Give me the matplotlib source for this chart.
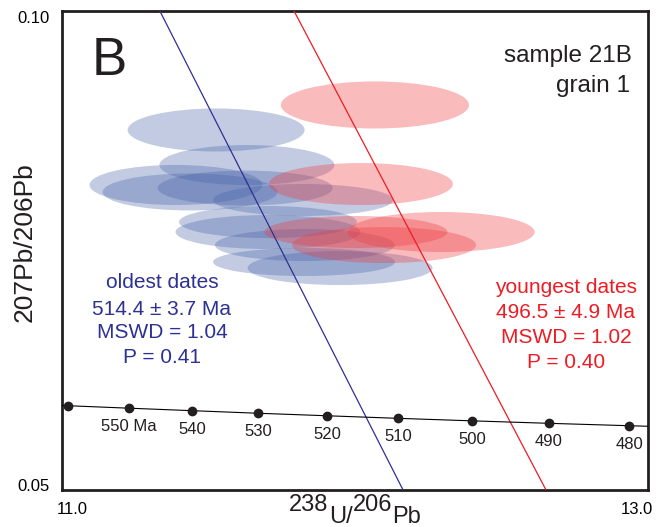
import matplotlib
matplotlib.use("Agg")
import matplotlib.pyplot as plt
from matplotlib.patches import Ellipse
from matplotlib.transforms import ScaledTranslation

plt.rcParams['font.family'] = ['Liberation Sans', 'DejaVu Sans']

# ---------------- data ----------------
# Concordia points (238U/206Pb, 207Pb/206Pb) and age labels
conc_ages = [560, 550, 540, 530, 520, 510, 500, 490, 480]
conc_labels = ['', '550 Ma', '540', '530', '520', '510', '500', '490', '480']
conc_x = [11.019, 11.228, 11.445, 11.670, 11.904, 12.147, 12.399, 12.662, 12.936]
conc_y = [0.05880, 0.05854, 0.05828, 0.05801, 0.05775, 0.05748, 0.05722, 0.05696, 0.05671]
# concordia curve extension beyond the axis limits
conc_line_x = [10.817] + conc_x + [13.222]
conc_line_y = [0.05908] + conc_y + [0.05645]

# Blue (oldest) ellipses: centre x, centre y, width, height
blue_cx = [11.526, 11.631, 11.389, 11.437, 11.625, 11.823, 11.703, 11.703, 11.829, 11.826, 11.949]
blue_cy = [0.08758, 0.08392, 0.08184, 0.08111, 0.08152, 0.08027, 0.07797, 0.07693, 0.07557, 0.07380, 0.07317]
blue_w = [0.604, 0.597, 0.590, 0.597, 0.597, 0.614, 0.607, 0.631, 0.614, 0.621, 0.631]
blue_h = [0.00449, 0.00418, 0.00418, 0.00386, 0.00365, 0.00334, 0.00334, 0.00355, 0.00334, 0.00292, 0.00355]

# Red (youngest) ellipses
red_cx = [12.068, 12.020, 12.003, 12.099, 12.294]
red_cy = [0.09019, 0.08194, 0.07693, 0.07557, 0.07693]
red_w = [0.642, 0.628, 0.625, 0.628, 0.638]
red_h = [0.00491, 0.00438, 0.00334, 0.00376, 0.00418]

# Regression (discordia) lines: endpoints
blue_line_x = [11.334, 12.164]
blue_line_y = [0.10, 0.05]
red_line_x = [11.792, 12.652]
red_line_y = [0.10, 0.05]

xlim = (11.0, 13.0)
ylim = (0.05, 0.10)
xtick_vals = [11.0, 13.0]
xtick_labels = ['11.0', '13.0']
ytick_vals = [0.05, 0.10]
ytick_labels = ['0.05', '0.10']

old_text = ['oldest dates', '514.4 \u00b1 3.7 Ma', 'MSWD = 1.04', 'P = 0.41']
young_text = ['youngest dates', '496.5 \u00b1 4.9 Ma', 'MSWD = 1.02', 'P = 0.40']

BLUE = '#2e3192'
RED = '#ed1c24'
BLUE_FILL = (70/255, 97/255, 167/255)
RED_FILL = (238/255, 60/255, 65/255)

# ---------------- figure ----------------
W, H = 657, 527
fig = plt.figure(figsize=(W/100, H/100), dpi=100)
ax = fig.add_axes([62/W, 1-490/H, (648-62)/W, (490-11)/H])
ax.set_xlim(*xlim)
ax.set_ylim(*ylim)

for cx, cy, w, h in zip(blue_cx, blue_cy, blue_w, blue_h):
    ax.add_patch(Ellipse((cx, cy), w, h, facecolor=BLUE_FILL, alpha=0.33, edgecolor='none', zorder=2))
for cx, cy, w, h in zip(red_cx, red_cy, red_w, red_h):
    ax.add_patch(Ellipse((cx, cy), w, h, facecolor=RED_FILL, alpha=0.35, edgecolor='none', zorder=3))

ax.plot(blue_line_x, blue_line_y, color=BLUE, lw=0.9, zorder=4)
ax.plot(red_line_x, red_line_y, color=RED, lw=0.9, zorder=4)

ax.plot(conc_line_x, conc_line_y, color='black', lw=0.8, zorder=5)
ax.plot(conc_x, conc_y, 'o', color='#231f20', ms=6, zorder=6, clip_on=False)
for x, y, lab in zip(conc_x, conc_y, conc_labels):
    if lab:
        ax.annotate(lab, (x, y), xytext=(0, -13.3), textcoords='offset points',
                    ha='center', va='center', fontsize=12, color='#231f20', zorder=7)

# text blocks
old_y = [0.07161, 0.06889, 0.06639, 0.06378]
young_y = [0.07109, 0.06858, 0.06597, 0.06336]
for s, y in zip(old_text, old_y):
    ax.text(11.341, y, s, ha='center', va='center', fontsize=15, color=BLUE, zorder=8)
for s, y in zip(young_text, young_y):
    ax.text(12.720, y, s, ha='center', va='center', fontsize=15, color=RED, zorder=8)

ax.text(0.0512, 0.8664, 'B', transform=ax.transAxes, ha='left', va='baseline',
        fontsize=38, color='#231f20')
ax.text(0.9727, 0.8935, 'sample 21B', transform=ax.transAxes, ha='right', va='baseline',
        fontsize=17.5, color='#231f20')
ax.text(0.9700, 0.831, 'grain 1', transform=ax.transAxes, ha='right', va='baseline',
        fontsize=17.5, color='#231f20')

# ticks
ax.set_xticks(xtick_vals)
ax.set_xticklabels(xtick_labels, fontsize=12)
ax.set_yticks(ytick_vals)
ax.set_yticklabels(ytick_labels, fontsize=12)
ax.tick_params(length=0)
ax.tick_params(axis='x', pad=9)
ax.tick_params(axis='y', pad=9)
xl = ax.get_xticklabels()
xl[0].set_ha('left'); xl[0].set_transform(xl[0].get_transform() + ScaledTranslation(-5/100, 0, fig.dpi_scale_trans))
xl[1].set_ha('right'); xl[1].set_transform(xl[1].get_transform() + ScaledTranslation(5/100, 0, fig.dpi_scale_trans))
yl = ax.get_yticklabels()
yl[0].set_transform(yl[0].get_transform() + ScaledTranslation(0, 5/100, fig.dpi_scale_trans))
yl[1].set_transform(yl[1].get_transform() + ScaledTranslation(0, -6/100, fig.dpi_scale_trans))

for sp in ax.spines.values():
    sp.set_linewidth(2.0)
    sp.set_color('#231f20')

# y label
fig.text(25/W, 1-242/H, '207Pb/206Pb', rotation=90, ha='center', va='center',
         fontsize=19, color='#231f20')

# x label with raised mass numbers
fig.canvas.draw()
r = fig.canvas.get_renderer()
pieces = [('238', True), ('U/', False), ('206', True), ('Pb', False)]
txts = []
for s, sup in pieces:
    t = fig.text(0, 0, s, fontsize=17, ha='left', va='baseline', color='#231f20')
    txts.append(t)
widths = [t.get_window_extent(r).width for t in txts]
x0 = 355 - sum(widths)/2
for t, w, (s, sup) in zip(txts, widths, pieces):
    base = 511 if sup else 523
    t.set_position((x0/W, 1-base/H))
    x0 += w

fig.savefig('out.png', dpi=100)
